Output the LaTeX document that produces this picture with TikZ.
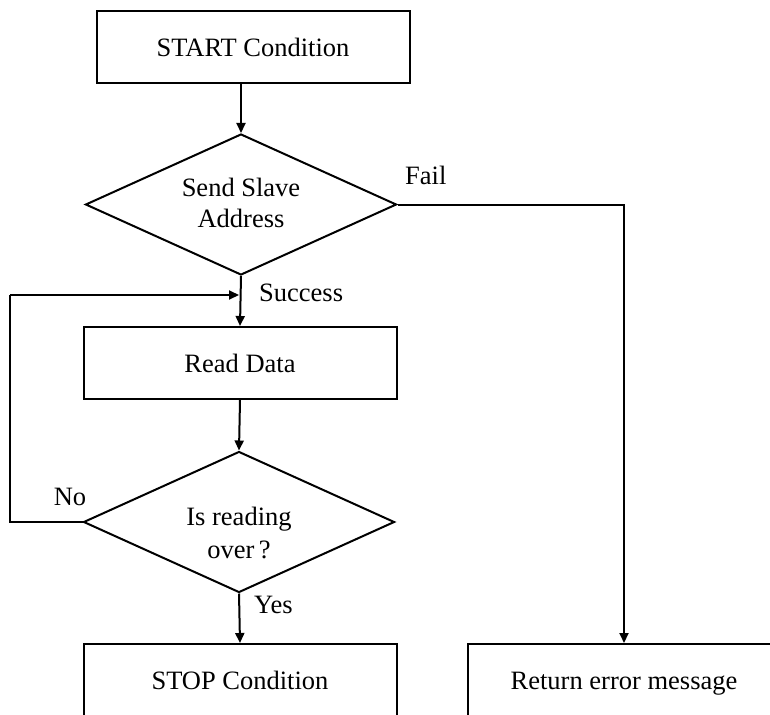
\documentclass[tikz,border=0pt]{standalone}
\usepackage{fontspec}
\setmainfont{Liberation Serif}
\usetikzlibrary{shapes.geometric,arrows.meta}
\begin{document}
\begin{tikzpicture}[x=1pt,y=-1pt,
  txt/.style={font=\fontsize{26.5}{31}\selectfont},
  box/.style={txt, draw, line width=2pt, minimum width=313pt, minimum height=72pt, inner sep=0pt, text height=18pt, text depth=0pt},
  dia/.style={draw, diamond, line width=2pt, minimum width=311pt, minimum height=141pt, inner sep=0pt},
  conn/.style={line width=2pt, -{Triangle[length=10pt,width=9pt]}},
  wire/.style={line width=2pt},
  lbl/.style={txt, inner sep=0pt}]
\useasboundingbox (0,0) rectangle (770,714);
\clip (0,0) rectangle (770,714);

% nodes
\node[box] (start) at (253,47.5) {START Condition};
\node[dia] (d1) at (241,204.5) {};
\node[txt, align=center, inner sep=0pt] (d1t) at (241,203) {Send Slave\\Address};
\node[box] (read) at (240,363) {Read Data};
\node[dia] (d2) at (239,522) {};
\node[txt, align=center, inner sep=0pt] (d2t) at (239,533) {Is reading\\[2pt]over\,?};
\node[box] (stop) at (240,680) {STOP Condition};
\node[box] (err) at (624,680) {Return error message};

% labels
\node[lbl, anchor=west] (fail) at (405,175) {Fail};
\node[lbl, anchor=west] (succ) at (259,293) {Success};
\node[lbl, anchor=west] (yes) at (254,605) {Yes};
\node[lbl] (no) at (70,497) {No};

% helper coordinates
\coordinate (join) at (240,295);
\coordinate (loopL) at (10,295);

% connectors
\draw[conn] (d1.north |- start.south) -- (d1.north);
\draw[conn] (d1.south) -- (read.north);
\draw[conn] (read.south) -- (d2.north);
\draw[conn] (d2.south) -- (stop.north);
\draw[conn] (d1.east) -| (err.north);
\draw[wire] (d2.west) -| (loopL);
\draw[conn] (loopL) -- ([xshift=-1pt]join);
\end{tikzpicture}
\end{document}
